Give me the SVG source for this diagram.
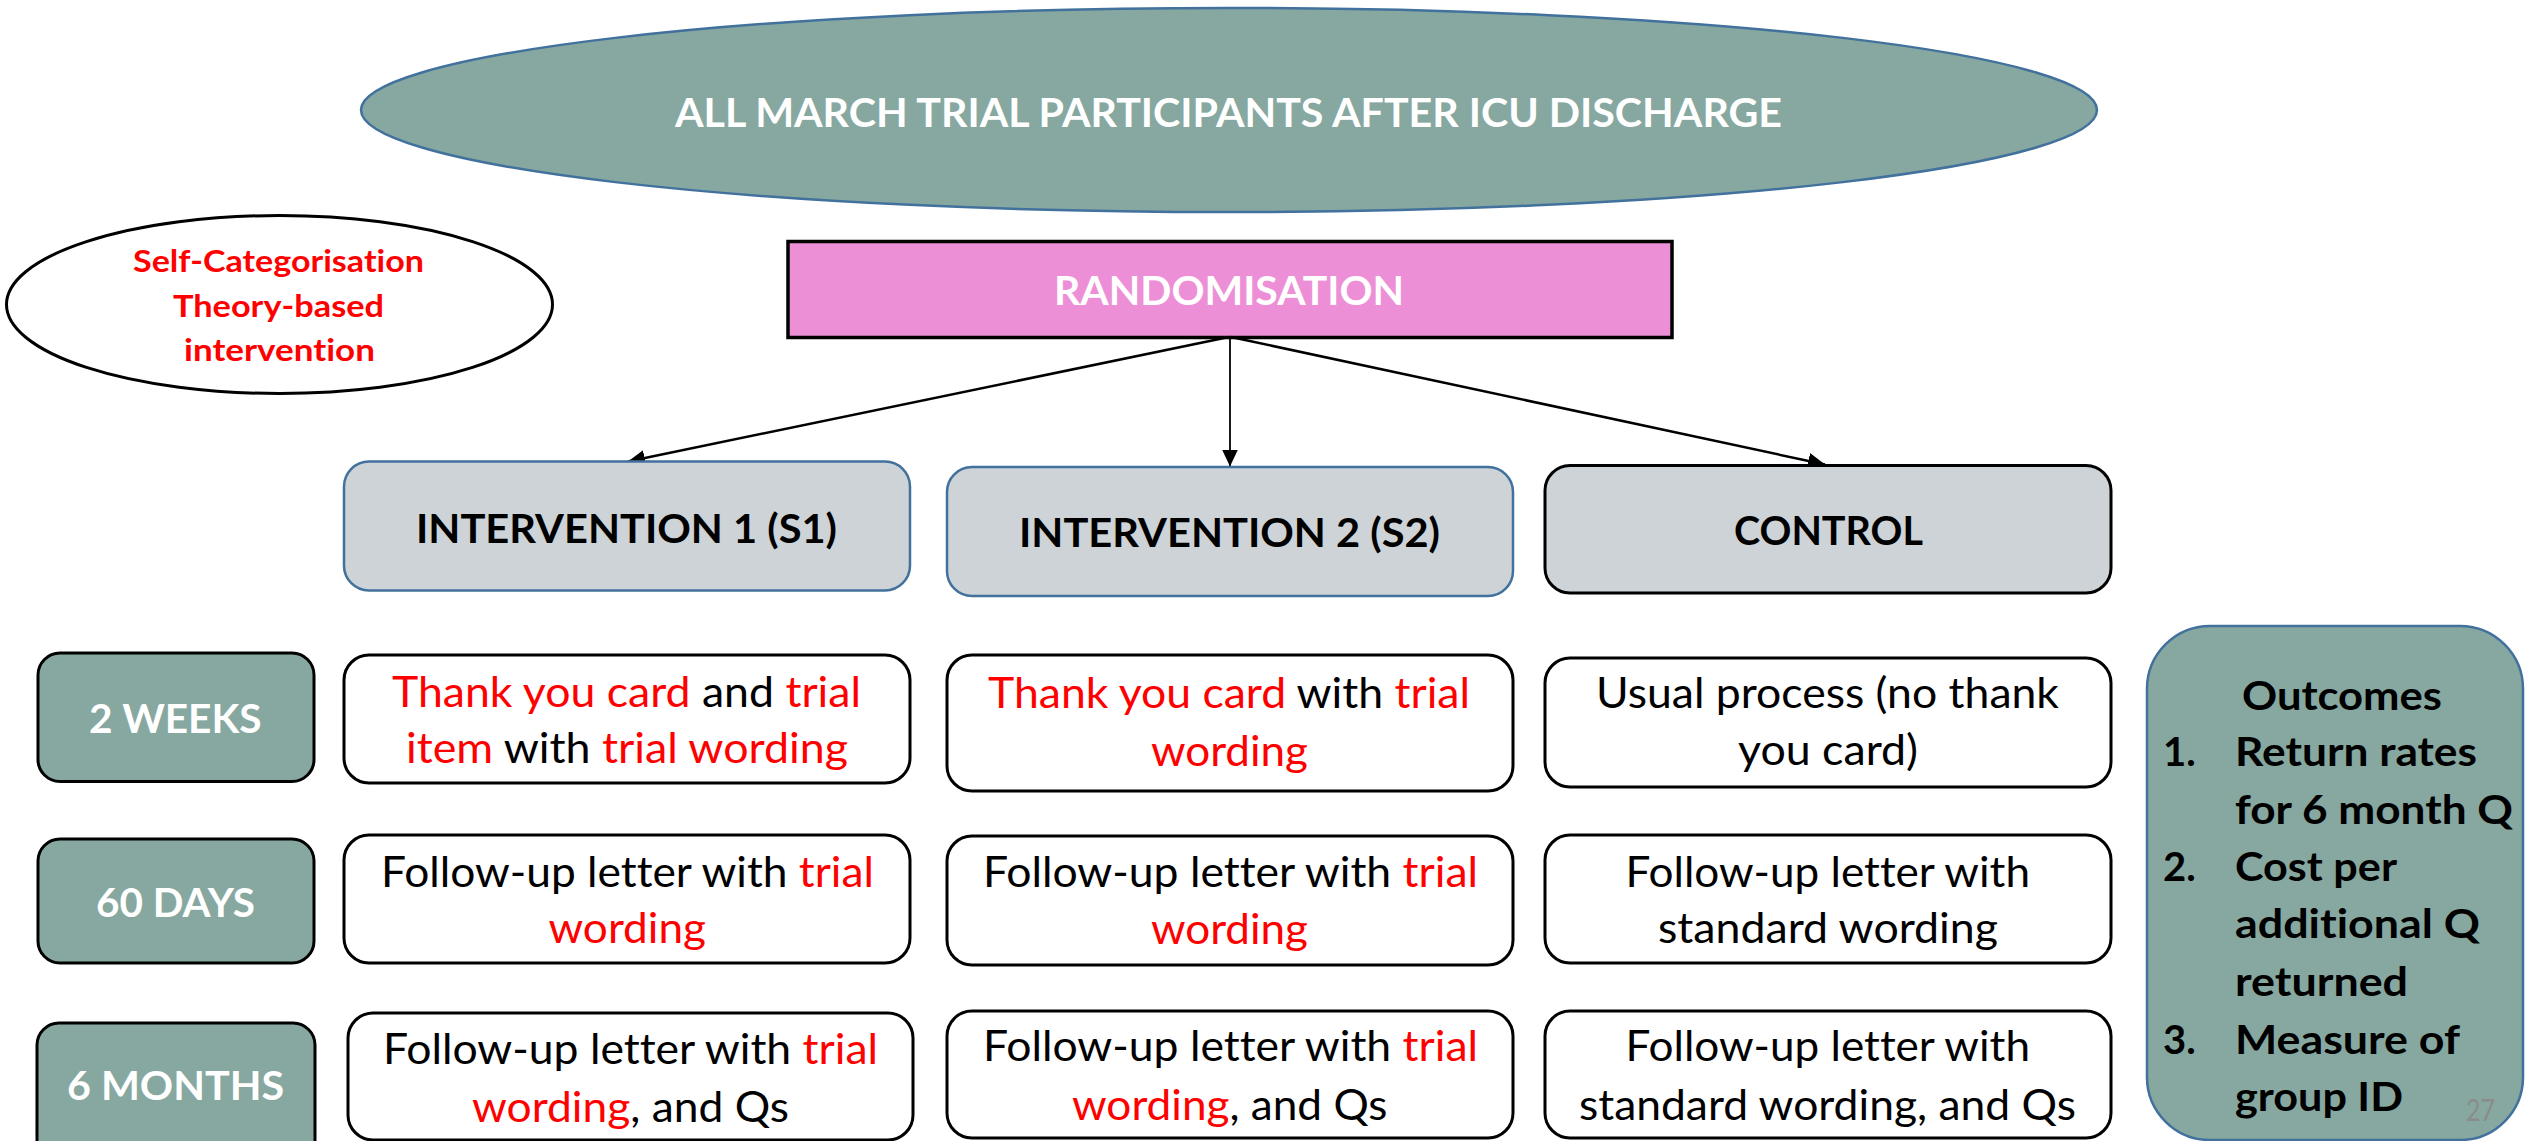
<svg xmlns="http://www.w3.org/2000/svg" width="2526" height="1141" viewBox="0 0 2526 1141">
<style>
text{font-family:Lato,"Liberation Sans","DejaVu Sans",sans-serif;font-variant-ligatures:none;font-feature-settings:"liga" 0}
.w{fill:#FFFFFF;font-weight:bold;font-size:40px}
.h{fill:#000000;font-weight:bold;font-size:40px}
.n{fill:#000000;font-size:42px}
.o{fill:#000000;font-weight:bold;font-size:40px}
.r{fill:#FF0000}
.sc{fill:#FF0000;font-weight:bold;font-size:31px}
.teal{fill:#86A8A0;stroke:#000000;stroke-width:3}
.hdr{fill:#CDD3D6;stroke:#41719C;stroke-width:2.5}
.hdrk{fill:#CDD3D6;stroke:#000000;stroke-width:3}
.cell{fill:#FFFFFF;stroke:#000000;stroke-width:3}
.conn{stroke:#000000;fill:none}
</style>
<defs>
<marker id="ah" markerUnits="userSpaceOnUse" markerWidth="18" markerHeight="16" refX="17" refY="8" orient="auto">
<path d="M0,0 L17,8 L0,16 z" fill="#000000"/>
</marker>
</defs>

<g id="participants">
<ellipse cx="1229" cy="110" rx="868" ry="102" fill="#86A8A0" stroke="#41719C" stroke-width="2.5"/>
<text class="w" x="675" y="127" textLength="1107" lengthAdjust="spacingAndGlyphs">ALL MARCH TRIAL PARTICIPANTS AFTER ICU DISCHARGE</text>
</g>

<g id="theory">
<ellipse cx="279.5" cy="304.5" rx="273" ry="89" fill="#FFFFFF" stroke="#000000" stroke-width="3"/>
<text class="sc" x="133" y="272" textLength="291" lengthAdjust="spacingAndGlyphs">Self-Categorisation</text>
<text class="sc" x="173" y="316.5" textLength="211" lengthAdjust="spacingAndGlyphs">Theory-based</text>
<text class="sc" x="184" y="361" textLength="191" lengthAdjust="spacingAndGlyphs">intervention</text>
</g>

<g id="randomisation">
<rect x="788" y="241.5" width="884" height="96" fill="#ED8FD6" stroke="#000000" stroke-width="3.5"/>
<text class="w" x="1054" y="305" textLength="350" lengthAdjust="spacingAndGlyphs">RANDOMISATION</text>
</g>

<g id="connectors">
<line class="conn" x1="1229" y1="337" x2="628" y2="461.5" stroke-width="2.5" marker-end="url(#ah)"/>
<line class="conn" x1="1230" y1="337" x2="1230" y2="466.5" stroke-width="1.8" marker-end="url(#ah)"/>
<line class="conn" x1="1231" y1="337" x2="1825" y2="464.5" stroke-width="2.5" marker-end="url(#ah)"/>
</g>

<g id="int1">
<rect class="hdr" x="344" y="461.5" width="566" height="129" rx="25"/>
<text class="h" x="416" y="543" textLength="421" lengthAdjust="spacingAndGlyphs">INTERVENTION 1 (S1)</text>
</g>
<g id="int2">
<rect class="hdr" x="947" y="467" width="566" height="129" rx="25"/>
<text class="h" x="1019" y="547" textLength="421" lengthAdjust="spacingAndGlyphs">INTERVENTION 2 (S2)</text>
</g>
<g id="control">
<rect class="hdrk" x="1545" y="465.5" width="566" height="127.5" rx="25"/>
<text class="h" x="1734" y="545" textLength="189" lengthAdjust="spacingAndGlyphs">CONTROL</text>
</g>

<g id="weeks2">
<rect class="teal" x="38" y="653" width="276" height="128.5" rx="22"/>
<text class="w" x="89" y="733" textLength="172.5" lengthAdjust="spacingAndGlyphs">2 WEEKS</text>
</g>
<g id="days60">
<rect class="teal" x="38" y="839" width="276" height="124" rx="22"/>
<text class="w" x="96" y="917" textLength="159" lengthAdjust="spacingAndGlyphs">60 DAYS</text>
</g>
<g id="months6">
<rect class="teal" x="37" y="1023" width="278" height="140" rx="22"/>
<text class="w" x="67" y="1100" textLength="217" lengthAdjust="spacingAndGlyphs">6 MONTHS</text>
</g>

<g id="int1-2weeks">
<rect class="cell" x="344" y="655" width="566" height="128" rx="25"/>
<text class="n" x="392" y="707" textLength="469" lengthAdjust="spacingAndGlyphs"><tspan class="r">Thank you card</tspan> and <tspan class="r">trial</tspan></text>
<text class="n" x="406" y="763" textLength="442" lengthAdjust="spacingAndGlyphs"><tspan class="r">item</tspan> with <tspan class="r">trial wording</tspan></text>
</g>
<g id="int2-2weeks">
<rect class="cell" x="947" y="655" width="566" height="136" rx="25"/>
<text class="n" x="988" y="708" textLength="482" lengthAdjust="spacingAndGlyphs"><tspan class="r">Thank you card</tspan> with <tspan class="r">trial</tspan></text>
<text class="n r" x="1151" y="766" textLength="157" lengthAdjust="spacingAndGlyphs">wording</text>
</g>
<g id="control-2weeks">
<rect class="cell" x="1545" y="658" width="566" height="129" rx="25"/>
<text class="n" x="1596" y="708" textLength="463" lengthAdjust="spacingAndGlyphs">Usual process (no thank</text>
<text class="n" x="1738" y="765" textLength="180" lengthAdjust="spacingAndGlyphs">you card)</text>
</g>

<g id="int1-60days">
<rect class="cell" x="344" y="835" width="566" height="128" rx="25"/>
<text class="n" x="381" y="887" textLength="493" lengthAdjust="spacingAndGlyphs">Follow-up letter with <tspan class="r">trial</tspan></text>
<text class="n r" x="548.5" y="943" textLength="157.5" lengthAdjust="spacingAndGlyphs">wording</text>
</g>
<g id="int2-60days">
<rect class="cell" x="947" y="836" width="566" height="129" rx="25"/>
<text class="n" x="983" y="887" textLength="495" lengthAdjust="spacingAndGlyphs">Follow-up letter with <tspan class="r">trial</tspan></text>
<text class="n r" x="1151" y="944" textLength="157" lengthAdjust="spacingAndGlyphs">wording</text>
</g>
<g id="control-60days">
<rect class="cell" x="1545" y="835" width="566" height="128" rx="25"/>
<text class="n" x="1625.5" y="887" textLength="404.5" lengthAdjust="spacingAndGlyphs">Follow-up letter with</text>
<text class="n" x="1658" y="943" textLength="340" lengthAdjust="spacingAndGlyphs">standard wording</text>
</g>

<g id="int1-6months">
<rect class="cell" x="348" y="1013" width="565" height="127" rx="25"/>
<text class="n" x="383" y="1063.5" textLength="495" lengthAdjust="spacingAndGlyphs">Follow-up letter with <tspan class="r">trial</tspan></text>
<text class="n" x="472" y="1121.5" textLength="317" lengthAdjust="spacingAndGlyphs"><tspan class="r">wording</tspan>, and Qs</text>
</g>
<g id="int2-6months">
<rect class="cell" x="947" y="1011" width="566" height="127" rx="25"/>
<text class="n" x="983" y="1061" textLength="495" lengthAdjust="spacingAndGlyphs">Follow-up letter with <tspan class="r">trial</tspan></text>
<text class="n" x="1072" y="1119.5" textLength="315.5" lengthAdjust="spacingAndGlyphs"><tspan class="r">wording</tspan>, and Qs</text>
</g>
<g id="control-6months">
<rect class="cell" x="1545" y="1011" width="566" height="127" rx="25"/>
<text class="n" x="1625.5" y="1061" textLength="404.5" lengthAdjust="spacingAndGlyphs">Follow-up letter with</text>
<text class="n" x="1579" y="1119.5" textLength="497" lengthAdjust="spacingAndGlyphs">standard wording, and Qs</text>
</g>

<g id="outcomes">
<rect x="2147" y="626" width="376" height="514" rx="63" fill="#86A8A0" stroke="#41719C" stroke-width="2.5"/>
<text class="o" x="2242" y="709.5" textLength="200" lengthAdjust="spacingAndGlyphs">Outcomes</text>
<text class="o" x="2163" y="766">1.</text>
<text class="o" x="2235" y="766" textLength="242" lengthAdjust="spacingAndGlyphs">Return rates</text>
<text class="o" x="2235" y="824" textLength="278" lengthAdjust="spacingAndGlyphs">for 6 month Q</text>
<text class="o" x="2163" y="881">2.</text>
<text class="o" x="2235" y="881" textLength="162" lengthAdjust="spacingAndGlyphs">Cost per</text>
<text class="o" x="2235" y="937.5" textLength="245" lengthAdjust="spacingAndGlyphs">additional Q</text>
<text class="o" x="2235" y="996" textLength="173" lengthAdjust="spacingAndGlyphs">returned</text>
<text class="o" x="2163" y="1054">3.</text>
<text class="o" x="2235" y="1054" textLength="225" lengthAdjust="spacingAndGlyphs">Measure of</text>
<text class="o" x="2235" y="1111" textLength="168" lengthAdjust="spacingAndGlyphs">group ID</text>
<text x="2466" y="1121" font-size="30" fill="#8B8B8B" textLength="29" lengthAdjust="spacingAndGlyphs">27</text>
</g>
</svg>
